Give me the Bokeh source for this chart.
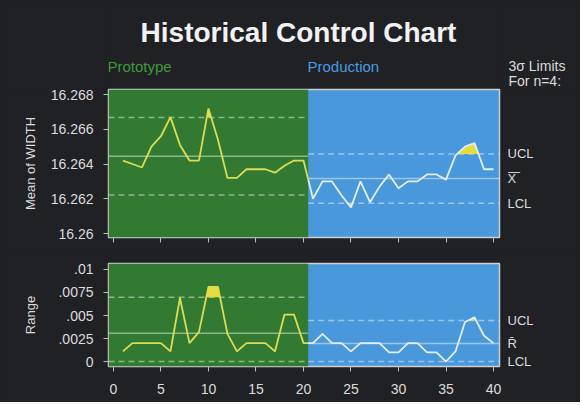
import numpy as np
from bokeh.plotting import figure
from bokeh.layouts import column
from bokeh.models import Range1d, FixedTicker, LinearAxis, BoxAnnotation, Label, CustomLabelingPolicy
from bokeh.embed import file_html
from bokeh.resources import INLINE

# ---------------- data ----------------
samples = list(range(1, 41))
means = [16.2642, 16.2640, 16.2638, 16.2650, 16.2656, 16.2667, 16.2651, 16.2642, 16.2642, 16.2672,
         16.2654, 16.2632, 16.2632, 16.2637, 16.2637, 16.2637, 16.2635, 16.2639, 16.2642, 16.2642,
         16.2620, 16.2630, 16.2630, 16.2622, 16.2615, 16.2630, 16.2618, 16.2627, 16.2634, 16.2626,
         16.2630, 16.2630, 16.2634, 16.2634, 16.2631, 16.2645, 16.2650, 16.2652, 16.2637, 16.2637]
ranges = [0.0011, 0.0020, 0.0020, 0.0020, 0.0020, 0.0011, 0.0069, 0.0020, 0.0032, 0.0081,
          0.0081, 0.0030, 0.0011, 0.0020, 0.0020, 0.0020, 0.0011, 0.0051, 0.0051, 0.0020,
          0.0020, 0.0030, 0.0020, 0.0020, 0.0011, 0.0020, 0.0020, 0.0020, 0.0010, 0.0010,
          0.0020, 0.0020, 0.0010, 0.0010, 0.0000, 0.0011, 0.0043, 0.0048, 0.0028, 0.0020]
phases = ["Prototype", "Production"]
phase_boundary = 20.5
xbar_ucl = [16.26668, 16.26458]
xbar_cl = [16.26445, 16.26316]
xbar_lcl = [16.26222, 16.26174]
r_ucl = [0.00699, 0.00446]
r_cl = [0.00306, 0.00195]
r_lcl = [0.0, 0.0]
x_ticks = [0, 5, 10, 15, 20, 25, 30, 35, 40]
mean_ticks = [16.26, 16.262, 16.264, 16.266, 16.268]
mean_tick_labels = ["16.26", "16.262", "16.264", "16.266", "16.268"]
range_ticks = [0.0, 0.0025, 0.005, 0.0075, 0.01]
range_tick_labels = ["0", ".0025", ".005", ".0075", ".01"]
limits_note = ["3\u03c3 Limits", "For n=4:"]

# ---------------- style ----------------
BG = "#202125"
GREEN = "#327a31"
BLUE = "#4a98dc"
GREEN_TXT = "#3f9b3a"
BLUE_TXT = "#4c9be0"
YELLOW = "#e6dc3c"
PROTO_LINE = "#dcdc55"
PROD_LINE = "#e3edf6"
TXT = "#dcdcdc"
FONT = "Liberation Sans"
W = 580
LEFT, RIGHT = 108, 499
X0, X1 = -0.52, 40.63


def split_phase(xs, ys):
    i = int(np.searchsorted(xs, phase_boundary))
    ym = ys[i - 1] + (ys[i] - ys[i - 1]) * (phase_boundary - xs[i - 1]) / (xs[i] - xs[i - 1])
    a = (list(xs[:i]) + [phase_boundary], list(ys[:i]) + [ym])
    b = ([phase_boundary] + list(xs[i:]), [ym] + list(ys[i:]))
    return a, b


def out_fill(xs, ys, lim, upper):
    px, py = [], []
    for i in range(len(xs)):
        if i > 0:
            d0, d1 = ys[i - 1] - lim, ys[i] - lim
            if d0 * d1 < 0:
                t = d0 / (d0 - d1)
                px.append(xs[i - 1] + t * (xs[i] - xs[i - 1]))
                py.append(lim)
        px.append(xs[i])
        py.append(ys[i])
    py = np.array(py)
    y2 = np.maximum(py, lim) if upper else np.minimum(py, lim)
    return px, list(y2)


def panel(height, btop, bbottom, yr, yticks, ylabels, ylabel, label_standoff, show_x_labels):
    p = figure(width=W, height=height, x_range=Range1d(X0, X1), y_range=Range1d(*yr),
               output_backend="svg", toolbar_location=None,
               min_border_left=LEFT, min_border_right=W - RIGHT,
               min_border_top=btop, min_border_bottom=bbottom)
    p.background_fill_color = BLUE
    p.border_fill_color = BG
    p.outline_line_color = "#cfcfcf"
    p.outline_line_width = 1.5
    p.grid.visible = False
    p.add_layout(BoxAnnotation(right=phase_boundary, fill_color=GREEN, fill_alpha=1,
                               line_color=None, level="underlay"))
    p.xaxis.ticker = FixedTicker(ticks=x_ticks)
    p.yaxis.ticker = FixedTicker(ticks=yticks)
    p.yaxis.major_label_overrides = dict(zip(yticks, ylabels))
    for ax in (p.xaxis[0], p.yaxis[0]):
        ax.axis_line_color = None
        ax.major_tick_line_color = "#bdbdbd"
        ax.major_tick_in = 0
        ax.major_tick_out = 5
        ax.minor_tick_line_color = None
        ax.major_label_text_color = TXT
        ax.major_label_text_font = FONT
        ax.major_label_text_font_size = "14px"
    p.yaxis.major_label_standoff = 10
    p.yaxis.axis_label = ylabel
    p.yaxis.axis_label_text_color = TXT
    p.yaxis.axis_label_text_font = FONT
    p.yaxis.axis_label_text_font_size = "13px"
    p.yaxis.axis_label_text_font_style = "normal"
    p.yaxis.axis_label_standoff = label_standoff
    if show_x_labels:
        p.xaxis.major_label_standoff = 12
    else:
        p.xaxis.major_label_policy = CustomLabelingPolicy(code="return new Set()")
        p.xaxis.major_label_text_font_size = "1px"
        p.xaxis.major_label_standoff = 0
    return p


def draw(p, ys, ucl, cl, lcl, right_labels):
    xs = np.array(samples, dtype=float)
    ys = np.array(ys, dtype=float)
    segs = split_phase(xs, ys)
    starts = [X0, phase_boundary]
    ends = [phase_boundary, X1]
    p.segment(x0=starts + starts, x1=ends + ends, y0=ucl + lcl, y1=ucl + lcl,
              line_color="#ffffff", line_alpha=0.45, line_width=1.5, line_dash="6 4")
    p.segment(x0=starts, x1=ends, y0=cl, y1=cl,
              line_color="#ffffff", line_alpha=0.45, line_width=1.5)
    for k, (sx, sy) in enumerate(segs):
        fx, fy = out_fill(sx, sy, ucl[k], True)
        p.varea(x=fx, y1=[ucl[k]] * len(fx), y2=fy, fill_color=YELLOW)
        fx, fy = out_fill(sx, sy, lcl[k], False)
        p.varea(x=fx, y1=[lcl[k]] * len(fx), y2=fy, fill_color=YELLOW)
        p.line(sx, sy, line_color=[PROTO_LINE, PROD_LINE][k], line_width=1.8)
    ra = LinearAxis(ticker=FixedTicker(ticks=[ucl[1], cl[1], lcl[1]]),
                    major_label_overrides=dict(zip([ucl[1], cl[1], lcl[1]], right_labels)))
    ra.axis_line_color = None
    ra.major_tick_line_color = None
    ra.minor_tick_line_color = None
    ra.major_tick_out = 0
    ra.major_tick_in = 0
    ra.major_label_standoff = 8
    ra.major_label_text_color = TXT
    ra.major_label_text_font = FONT
    ra.major_label_text_font_size = "13px"
    p.add_layout(ra, "right")


# header (frame aligned with the panels; coordinates are page pixels)
HH = 88
h = figure(width=W, height=HH, x_range=Range1d(LEFT, RIGHT), y_range=Range1d(HH, 0),
           output_backend="svg", toolbar_location=None,
           min_border_left=LEFT, min_border_right=W - RIGHT, min_border_top=0, min_border_bottom=0,
           x_axis_type=None, y_axis_type=None)
h.grid.visible = False
h.outline_line_color = None
h.background_fill_color = BG
h.border_fill_color = BG
h.add_layout(Label(x=298, y=32, text="Historical Control Chart", text_align="center",
                   text_baseline="middle", text_color="#f2f2f2", text_font=FONT,
                   text_font_style="bold", text_font_size="28px"))
for name, xpos, col in zip(phases, [107, 307], [GREEN_TXT, BLUE_TXT]):
    h.add_layout(Label(x=xpos, y=66, text=name, text_align="left", text_baseline="middle",
                       text_color=col, text_font=FONT, text_font_size="15px"))
note_y = [65, 81]
na = LinearAxis(ticker=FixedTicker(ticks=note_y),
                major_label_overrides=dict(zip(note_y, limits_note)))
na.axis_line_color = None
na.major_tick_line_color = None
na.minor_tick_line_color = None
na.major_tick_out = 0
na.major_tick_in = 0
na.major_label_standoff = 9
na.major_label_text_color = TXT
na.major_label_text_font = FONT
na.major_label_text_font_size = "14px"
h.add_layout(na, "right")

top = panel(162, 1, 13, (16.25977, 16.26829), mean_ticks, mean_tick_labels,
            "Mean of WIDTH", 10, False)
draw(top, means, xbar_ucl, xbar_cl, xbar_lcl, ["UCL", "X\u0305\u0305", "LCL"])

bot = panel(152, 13, 36, (-0.00054, 0.01065), range_ticks, range_tick_labels,
            "Range", 17, True)
draw(bot, ranges, r_ucl, r_cl, r_lcl, ["UCL", "R\u0304", "LCL"])

layout = column(h, top, bot, spacing=0)
layout.background = BG
open("out.html", "w").write(file_html(layout, INLINE))
